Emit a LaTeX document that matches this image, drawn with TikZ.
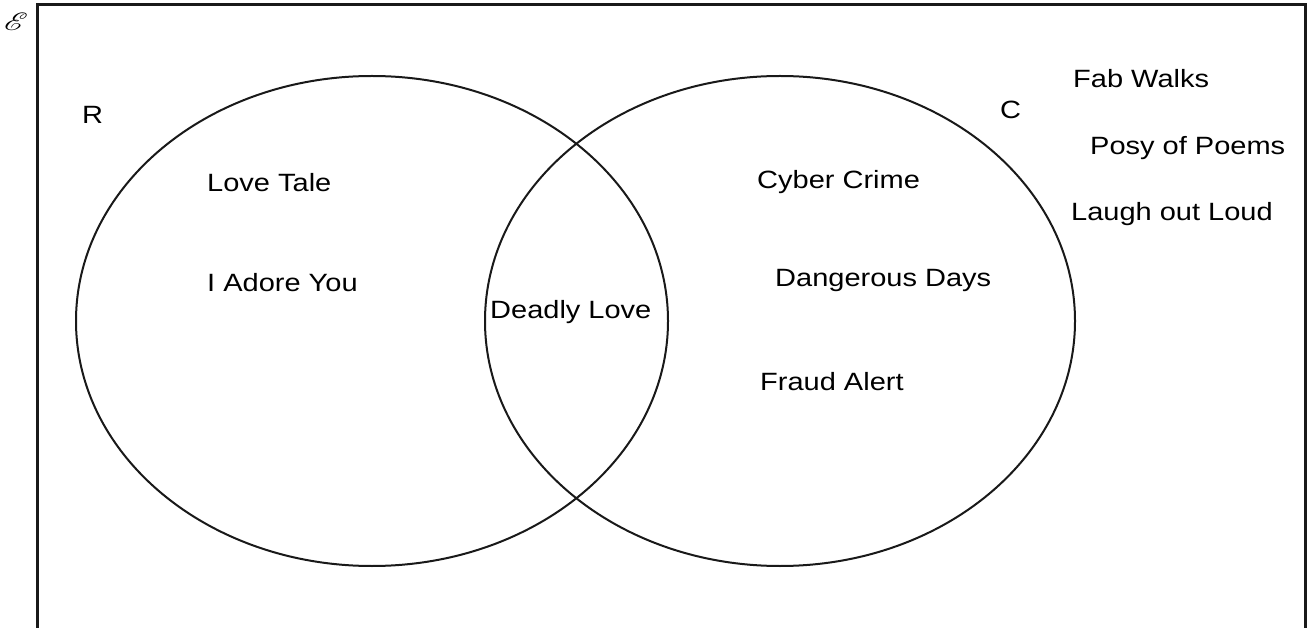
\documentclass[tikz,border=0pt]{standalone}
\usepackage{fontspec}
\setmainfont{Liberation Sans}[FakeStretch=1.16]
\usepackage{mathrsfs}
\usetikzlibrary{positioning}
\tikzset{
  setname/.style={anchor=base west, inner sep=0pt, font=\fontsize{25}{30}\selectfont},
  member/.style={anchor=base west, inner sep=0pt, font=\fontsize{25}{30}\selectfont},
  setline/.style={line width=2pt, black!90},
}

\begin{document}
\begin{tikzpicture}[x=1pt, y=-1pt]
    \useasboundingbox (0,0) rectangle (1310,628);
    % Universal set frame (open at the bottom)
    \draw[line width=3pt, black!90] (37,628) -- (37,5) -- (1305,5) -- (1305,628);
    \node[inner sep=0pt] (univ) at (16,22) {\scalebox{3.2}[2.5]{$\mathscr{E}$}};
    % Sets R and C
    \draw[setline] (372,321) ellipse [x radius=296, y radius=245];
    \draw[setline] (780,321) ellipse [x radius=295, y radius=245];
    \node[setname] (nameR) at (82,124) {R};
    \node[setname] (nameC) at (1000,119) {C};
    % Only R
    \node[member] (loveTale) at (207,192) {Love Tale};
    \node[member] (adoreYou) at (207,292) {I Adore You};
    % R and C
    \node[member] (deadlyLove) at (490,319) {Deadly Love};
    % Only C
    \node[member] (cyberCrime) at (757,189) {Cyber Crime};
    \node[member] (dangerDays) at (775,287) {Dangerous Days};
    \node[member] (fraudAlert) at (760,391) {Fraud Alert};
    % Neither
    \node[member] (fabWalks) at (1073,88) {Fab Walks};
    \node[member] (posyPoems) at (1090,155) {Posy of Poems};
    \node[member] (laughLoud) at (1071,221) {Laugh out Loud};
\end{tikzpicture}
\end{document}
